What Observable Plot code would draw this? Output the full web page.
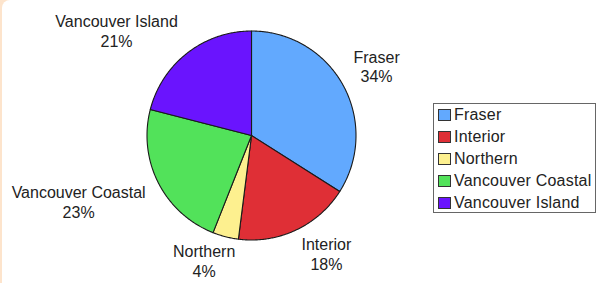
<!DOCTYPE html>
<html>
<head>
<meta charset="utf-8">
<script src="https://cdn.jsdelivr.net/npm/d3@7"></script>
<script src="https://cdn.jsdelivr.net/npm/@observablehq/plot@0.6"></script>
<style>
  html, body { margin: 0; padding: 0; }
  body { width: 597px; height: 283px; background: #fde4cc; position: relative; overflow: hidden;
         font-family: "Liberation Sans", Arial, Helvetica, sans-serif; }
  #panel { position: absolute; left: 2px; top: 0; width: 600px; height: 290px; background: #fff;
           border-top-left-radius: 8px; }
  #chart { position: absolute; left: 0; top: 0; }
  #legend { position: absolute; left: 433px; top: 103px; width: 161px; height: 108px;
            border: 1px solid #666; background: #fff; overflow: visible; }
  .item { height: 22px; display: flex; align-items: center; font-size: 16px; letter-spacing: 0.2px;
          color: #222; white-space: nowrap; }
  .sw { flex: none; width: 11px; height: 10px; border: 1px solid #333; margin-left: 4px; margin-right: 3px; }
</style>
</head>
<body>
<div id="panel"></div>
<div id="chart"></div>
<div id="legend"></div>
<script>
const names = ["Fraser", "Interior", "Northern", "Vancouver Coastal", "Vancouver Island"];
const values = [34, 18, 4, 23, 21];
const colors = ["#62a9fe", "#df2f36", "#fdf08f", "#52e25a", "#6a14fe"];

const cx = 251, cy = 135, R = 104.5;
const total = d3.sum(values);

// slice polygons (angles clockwise from 12 o'clock)
const arcs = d3.pie().sort(null).startAngle(0).endAngle(2 * Math.PI)(values);
const pts = [];
arcs.forEach((a, i) => {
  pts.push({name: names[i], x: 0, y: 0});
  const n = Math.max(2, Math.ceil((a.endAngle - a.startAngle) / 0.01));
  for (let k = 0; k <= n; k++) {
    const t = a.startAngle + (a.endAngle - a.startAngle) * k / n;
    pts.push({name: names[i], x: Math.sin(t), y: Math.cos(t)});
  }
  pts.push({name: names[i], x: 0, y: 0});
});

// labels
const ctx = document.createElement("canvas").getContext("2d");
ctx.font = "16px 'Liberation Sans', Arial, sans-serif";
const labels = arcs.map((a, i) => {
  const m = (a.startAngle + a.endAngle) / 2;
  const s = Math.sin(m), c = Math.cos(m);
  const w = ctx.measureText(names[i]).width + 0.4 * names[i].length;
  const rl = 115;
  const dxp = Math.sign(s) * (w / 2) * Math.min(1, 2.3 * Math.abs(s));
  const dyp = -Math.sign(c) * 14;
  return {
    text: names[i] + "\n" + Math.round(values[i] / total * 100) + "%",
    x: (s * rl + dxp) / R,
    y: (c * rl - dyp) / R
  };
});

const plot = Plot.plot({
  width: 597, height: 283,
  margin: 0,
  style: {background: "transparent", overflow: "visible", fontFamily: "'Liberation Sans', Arial, sans-serif"},
  x: {domain: [-1, 1], range: [cx - R, cx + R], axis: null},
  y: {domain: [-1, 1], range: [cy + R, cy - R], axis: null},
  color: {domain: names, range: colors},
  marks: [
    Plot.line(pts, {x: "x", y: "y", z: "name", fill: "name", stroke: "#1a1a1a", strokeWidth: 1.1, strokeLinejoin: "round"}),
    Plot.text(labels, {x: "x", y: "y", text: "text", fontSize: 16, lineHeight: 1.25, fill: "#222",
      textAnchor: "middle", lineAnchor: "middle", letterSpacing: 0.4})
  ]
});
document.getElementById("chart").appendChild(plot);

const legend = document.getElementById("legend");
names.forEach((n, i) => {
  const row = document.createElement("div");
  row.className = "item";
  const sw = document.createElement("div");
  sw.className = "sw";
  sw.style.background = colors[i];
  row.appendChild(sw);
  const t = document.createElement("span");
  t.textContent = n;
  row.appendChild(t);
  legend.appendChild(row);
});
</script>
</body>
</html>
